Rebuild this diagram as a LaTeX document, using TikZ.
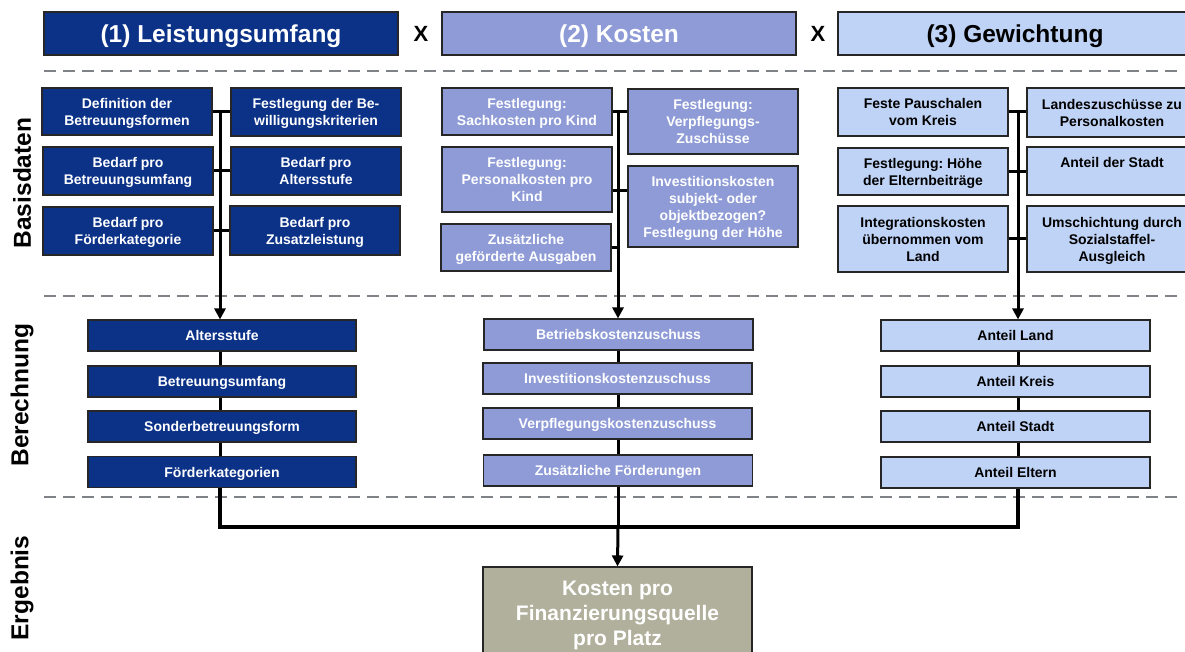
\documentclass[tikz,border=0pt]{standalone}
\usepackage{fontspec}
\setmainfont{Liberation Sans}
\usetikzlibrary{arrows.meta}
\definecolor{navy}{HTML}{0C3288}
\definecolor{lavender}{HTML}{8E9BD6}
\definecolor{pale}{HTML}{BFD3F6}
\definecolor{khaki}{HTML}{B1B09C}
\definecolor{dashgray}{HTML}{7F8388}
\pgfdeclarelayer{back}
\pgfsetlayers{back,main}
\frenchspacing
\begin{document}
\begin{tikzpicture}[x=1pt,y=-1pt,
  sz/.style 2 args={minimum width=#1pt,minimum height=#2pt},
  box/.style={draw=black!85, line width=1.1pt, inner sep=0pt, align=center,
    text depth=0pt, font=\bfseries\fontsize{14}{17}\selectfont},
  nbox/.style={box, fill=navy, text=white},
  lbox/.style={box, fill=lavender, text=white},
  pbox/.style={box, fill=pale, text=black},
  head/.style={draw=black!85, line width=1.1pt, sz={354}{43},
    text height=17.5pt, text depth=0pt,
    font=\bfseries\fontsize{24.5}{28}\selectfont},
  times/.style={font=\bfseries\fontsize{22}{26}\selectfont},
  phase/.style={rotate=90, font=\bfseries\fontsize{24.5}{28}\selectfont},
  sep/.style={dashgray, line width=2.5pt, dash pattern=on 12pt off 7pt},
  conn/.style={black, line width=3pt},
  arrow/.style={conn, -{Triangle[width=11pt,length=11pt]}}
]
\useasboundingbox (0,0) rectangle (1185,652);
\clip (0,0) rectangle (1185,652);

% phase separators
\begin{pgfonlayer}{back}
  \draw[sep] (44,71) -- (1182,71);
  \draw[sep] (44,296) -- (1182,296);
  \draw[sep] (44,497) -- (1182,497);
\end{pgfonlayer}

% headers
\node[head, fill=navy, text=white] (h1) at (221,33.5) {(1) Leistungsumfang};
\node[head, fill=lavender, text=white] (h2) at (619,33.5) {(2) Kosten};
\node[head, fill=pale, text=black] (h3) at (1015,33.5) {(3) Gewichtung};
\node[times] (x1) at (421,34) {X};
\node[times] (x2) at (818,34) {X};

% phase labels
\node[phase] (p1) at (22,183) {Basisdaten};
\node[phase] (p2) at (22,395) {Berechnung};
\node[phase] (p3) at (22,588) {Ergebnis};

% (1) basic data
\node[nbox, sz={170}{47}] (b11) at (127,111.5) {Definition der\\Betreuungsformen};
\node[nbox, sz={170}{48}] (b12) at (316,112) {Festlegung der Be-\\willigungskriterien};
\node[nbox, sz={170}{48}] (b21) at (128,171) {Bedarf pro\\Betreuungsumfang};
\node[nbox, sz={170}{48}] (b22) at (316,171) {Bedarf pro\\Altersstufe};
\node[nbox, sz={170}{48}] (b31) at (128,231) {Bedarf pro\\Förderkategorie};
\node[nbox, sz={170}{49}] (b32) at (315,230.5) {Bedarf pro\\Zusatzleistung};

% (1) calculation
\node[nbox, sz={268}{31}] (c11) at (222,335.5) {Altersstufe};
\node[nbox, sz={268}{31}] (c12) at (222,381.5) {Betreuungsumfang};
\node[nbox, sz={268}{31}] (c13) at (222,426.5) {Sonderbetreuungsform};
\node[nbox, sz={268}{31}] (c14) at (222,472) {Förderkategorien};

% (2) basic data
\node[lbox, sz={170}{47}] (k11) at (527,111.5) {Festlegung:\\Sachkosten pro Kind};
\node[lbox, sz={170}{65}] (k12) at (713,121.5) {Festlegung:\\Verpflegungs-\\Zuschüsse};
\node[lbox, sz={170}{65}] (k21) at (527,179.5) {Festlegung:\\Personalkosten pro\\Kind};
\node[lbox, sz={170}{81}] (k22) at (713,206.5) {Investitionskosten\\subjekt- oder\\objektbezogen?\\Festlegung der Höhe};
\node[lbox, sz={170}{47}] (k31) at (526,247.5) {Zusätzliche\\geförderte Ausgaben};

% (2) calculation
\node[lbox, sz={269}{31}] (d11) at (618.5,334.5) {Betriebskostenzuschuss};
\node[lbox, sz={269}{31}] (d12) at (617.5,378.5) {Investitionskostenzuschuss};
\node[lbox, sz={269}{31}] (d13) at (617.5,423.5) {Verpflegungskostenzuschuss};
\node[lbox, sz={269}{31}] (d14) at (618,470.5) {Zusätzliche Förderungen};

% (3) basic data
\node[pbox, sz={170}{48}] (g11) at (923,112) {Feste Pauschalen\\vom Kreis};
\node[pbox, sz={170}{49}] (g12) at (1112,112.5) {Landeszuschüsse zu\\Personalkosten};
\node[pbox, sz={170}{47}] (g21) at (923,171.5) {Festlegung: Höhe\\der Elternbeiträge};
\node[pbox, sz={170}{48}] (g22) at (1112,171) {Anteil der Stadt\\\mbox{}};
\node[pbox, sz={170}{66}] (g31) at (923,239) {Integrationskosten\\übernommen vom\\Land};
\node[pbox, sz={170}{66}] (g32) at (1112,239) {Umschichtung durch\\Sozialstaffel-\\Ausgleich};

% (3) calculation
\node[pbox, sz={269}{31}] (e11) at (1015.5,335.5) {Anteil Land};
\node[pbox, sz={269}{31}] (e12) at (1015.5,381.5) {Anteil Kreis};
\node[pbox, sz={269}{31}] (e13) at (1015.5,426.5) {Anteil Stadt};
\node[pbox, sz={269}{31}] (e14) at (1015.5,472.5) {Anteil Eltern};

% result
\node[box, fill=khaki, text=white, sz={269}{92},
  font=\bfseries\fontsize{21}{25}\selectfont] (res) at (617.5,613)
  {Kosten pro\\Finanzierungsquelle\\pro Platz};

% junctions and bus
\coordinate (j1) at (220,111.5);
\coordinate (j2) at (618,111.5);
\coordinate (j3) at (1018,112);
\coordinate (t22) at (618,191);
\coordinate (bus1) at (220,527);
\coordinate (bus2) at (618,527);
\coordinate (bus3) at (1018,527);

% (1) connectors
\draw[conn] (b11.east) -- (b11.east -| b12.west);
\draw[conn] (b21.east) -- (b21.east -| b22.west);
\draw[conn] (b31.east) -- (b31.east -| b32.west);
\draw[arrow] (j1) -- (j1 |- c11.north);
\draw[conn] (j1 |- c11.south) -- (j1 |- c12.north);
\draw[conn] (j1 |- c12.south) -- (j1 |- c13.north);
\draw[conn] (j1 |- c13.south) -- (j1 |- c14.north);

% (2) connectors
\draw[conn] (k11.east) -- (k11.east -| k12.west);
\draw[conn] (k21.east |- t22) -- (k22.west |- t22);
\draw[conn] (k31.east) -- (j2 |- k31.east);
\draw[arrow] (j2) -- (j2 |- d11.north);
\draw[conn] (j2 |- d11.south) -- (j2 |- d12.north);
\draw[conn] (j2 |- d12.south) -- (j2 |- d13.north);
\draw[conn] (j2 |- d13.south) -- (j2 |- d14.north);

% (3) connectors
\draw[conn] (g11.east) -- (g11.east -| g12.west);
\draw[conn] (g21.east) -- (g21.east -| g22.west);
\draw[conn] (g31.east) -- (g31.east -| g32.west);
\draw[arrow] (j3) -- (j3 |- e11.north);
\draw[conn] (j3 |- e11.south) -- (j3 |- e12.north);
\draw[conn] (j3 |- e12.south) -- (j3 |- e13.north);
\draw[conn] (j3 |- e13.south) -- (j3 |- e14.north);

% merge into the result
\draw[conn, line width=3.5pt] (j1 |- c14.south) -- (bus1) -- (bus3) -- (j3 |- e14.south);
\draw[conn] (j2 |- d14.south) -- (bus2);
\draw[arrow] (bus2) -- (res.north);
\end{tikzpicture}
\end{document}
